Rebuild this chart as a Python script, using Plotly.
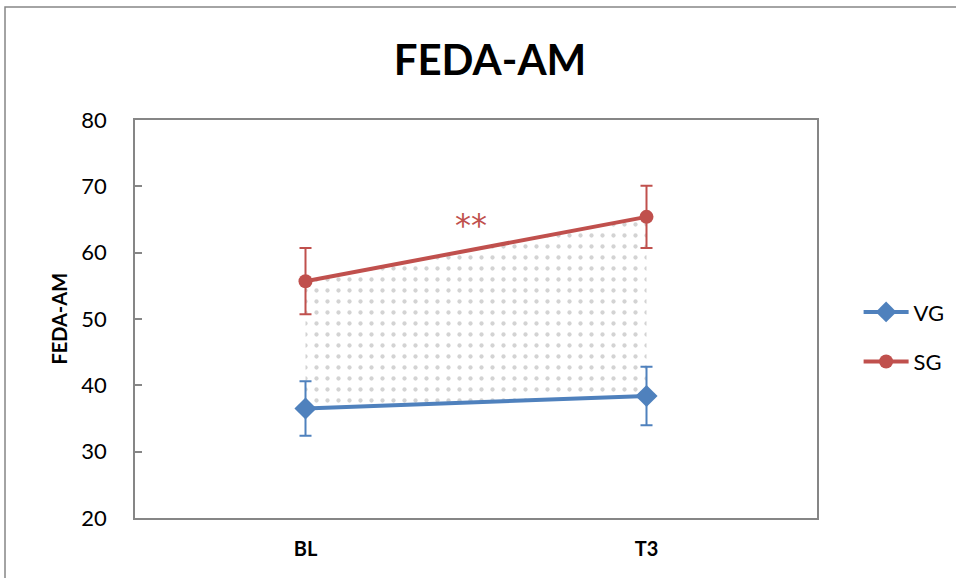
import plotly.graph_objects as go

categories = ["BL", "T3"]
vg_mean = [36.5, 38.4]
vg_err = [4.1, 4.4]
sg_mean = [55.7, 65.4]
sg_err = [5.0, 4.7]
sig_label = "**"
sig_pos = 0.485
sig_y = 64.1

BLUE = "#4F81BD"
RED = "#C0504D"
AX = "#868686"
FONT = "Lato, 'Open Sans', sans-serif"

xi = list(range(len(categories)))

fig = go.Figure()

# shaded (dotted) area between the two groups
fig.add_trace(go.Scatter(x=xi, y=vg_mean, mode="lines", line=dict(width=0),
                         showlegend=False, hoverinfo="skip"))
fig.add_trace(go.Scatter(x=xi, y=sg_mean, mode="lines", line=dict(width=0),
                         fill="tonexty", fillcolor="rgba(0,0,0,0)",
                         fillpattern=dict(shape=".", fgcolor="#a8a8a8", bgcolor="white",
                                          size=11, solidity=0.12),
                         showlegend=False, hoverinfo="skip"))

fig.add_trace(go.Scatter(x=xi, y=vg_mean, name="VG", mode="lines+markers",
                         line=dict(color=BLUE, width=4),
                         marker=dict(symbol="diamond", size=17, color=BLUE),
                         error_y=dict(type="data", array=vg_err, color=BLUE,
                                      thickness=2, width=6),
                         legendgroup="a"))
fig.add_trace(go.Scatter(x=xi, y=sg_mean, name="SG", mode="lines+markers",
                         line=dict(color=RED, width=4),
                         marker=dict(symbol="circle", size=14, color=RED),
                         error_y=dict(type="data", array=sg_err, color=RED,
                                      thickness=2, width=6),
                         legendgroup="b"))

fig.add_annotation(x=sig_pos, y=sig_y, text=sig_label, showarrow=False,
                   font=dict(size=32, color=RED, family="DejaVu Sans"))

# outer chart frame
fig.add_shape(type="rect", xref="paper", yref="paper",
              x0=-0.1906, x1=1.5, y0=-0.5, y1=1.284,
              line=dict(color=AX, width=1.5), layer="below")

fig.update_layout(
    width=956, height=578,
    margin=dict(l=135, r=139, t=120, b=60, autoexpand=False),
    paper_bgcolor="white", plot_bgcolor="white",
    title=dict(text="<b>FEDA-AM</b>", x=0.5125, xanchor="center",
               y=0.895, yanchor="middle",
               font=dict(size=42, color="black", family=FONT)),
    xaxis=dict(range=[-0.5, 1.5], tickmode="array", tickvals=xi,
               ticktext=["<b>%s</b>" % c for c in categories],
               showgrid=False, zeroline=False, showline=True, linecolor=AX,
               linewidth=1.5, mirror=True, ticks="", ticklabelstandoff=12,
               tickfont=dict(size=20, color="black", family=FONT)),
    yaxis=dict(range=[20, 80], dtick=10, showgrid=False, zeroline=False,
               showline=True, linecolor=AX, linewidth=1.5, mirror=True,
               ticks="inside", ticklen=7, tickcolor=AX, tickwidth=1.5,
               ticklabelstandoff=22,
               tickfont=dict(size=22, color="black", family=FONT)),
    legend=dict(x=1.061, y=0.57, xanchor="left", yanchor="top",
                font=dict(size=22, color="black", family=FONT), itemwidth=45,
                tracegroupgap=18, traceorder="grouped", bgcolor="rgba(0,0,0,0)"),
)

fig.add_annotation(xref="paper", yref="paper", x=-0.112, y=0.5,
                   text="<b>FEDA-AM</b>", textangle=-90, showarrow=False,
                   xanchor="center", yanchor="middle",
                   font=dict(size=20, color="black", family=FONT))

fig.write_html("out.html")
